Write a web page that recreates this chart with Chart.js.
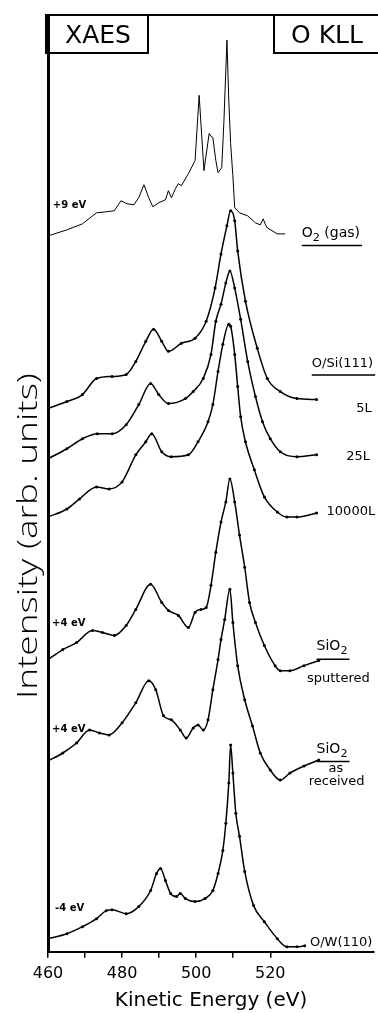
<!DOCTYPE html>
<html>
<head>
<meta charset="utf-8">
<script src="https://cdn.jsdelivr.net/npm/chart.js@4.4.0/dist/chart.umd.min.js"></script>
<style>
  body { margin: 0; background: #fff; overflow: hidden; }
  #wrap { width: 378px; height: 1013px; position: relative; }
</style>
</head>
<body>
<div id="wrap"><canvas id="chart"></canvas></div>
<script>
// kinetic energy (eV) / intensity (arb. units, spectra stacked as in the figure)
const energyGas = [460.0, 465.1, 469.3, 473.1, 475.7, 477.9, 479.7, 481.3, 483.2, 484.5, 485.9, 487.2, 488.3, 489.9, 491.7, 492.5, 493.3, 494.4, 495.2, 496.0, 497.9, 499.7, 500.8, 502.1, 503.5, 504.0, 504.5, 505.3, 505.9, 506.9, 507.5, 508.3, 508.8, 509.3, 509.9, 510.4, 511.7, 513.9, 516.0, 517.3, 518.1, 518.7, 519.2, 521.9, 524.0];
const intensityGas = [71.3, 71.9, 72.5, 73.6, 73.7, 73.8, 74.8, 74.5, 74.4, 75.1, 76.4, 75.1, 74.2, 74.6, 74.9, 75.8, 75.1, 76.0, 76.5, 76.3, 77.5, 78.8, 85.3, 77.8, 81.5, 81.2, 81.1, 78.8, 77.6, 78.1, 82.8, 90.8, 84.8, 80.5, 77.3, 74.1, 73.6, 73.3, 72.6, 72.4, 73.0, 72.4, 72.1, 71.5, 71.5];

const energy5L = [460.0, 465.1, 469.3, 473.1, 477.3, 481.1, 483.7, 486.4, 488.5, 490.7, 492.5, 496.0, 499.7, 502.7, 505.1, 506.7, 508.3, 509.3, 510.4, 511.2, 513.3, 516.5, 519.2, 522.7, 527.2, 532.5];
const intensity5L = [54.1, 54.8, 55.5, 57.1, 57.3, 57.5, 58.8, 60.8, 62.0, 60.8, 59.8, 60.6, 61.1, 62.8, 66.1, 69.5, 72.3, 73.8, 72.8, 69.8, 64.8, 60.1, 57.1, 55.8, 55.1, 55.0];

const energy25L = [460.0, 465.1, 469.3, 473.3, 477.3, 481.1, 484.5, 487.7, 489.9, 492.5, 497.1, 499.2, 501.9, 504.0, 505.3, 506.7, 508.0, 509.1, 510.4, 512.0, 513.9, 516.0, 517.9, 520.0, 522.7, 527.2, 532.5];
const intensity25L = [49.1, 50.1, 51.1, 51.6, 51.6, 52.5, 54.5, 56.6, 55.5, 54.6, 55.1, 55.8, 57.1, 59.5, 62.8, 64.5, 66.6, 67.8, 66.1, 63.0, 58.8, 55.3, 52.8, 51.1, 49.8, 49.3, 49.5];

const energy10000L = [460.0, 465.1, 468.5, 473.1, 476.5, 480.0, 483.7, 486.4, 488.0, 490.7, 493.3, 497.9, 500.5, 503.2, 504.5, 505.9, 507.2, 508.8, 509.3, 510.4, 511.2, 512.0, 513.3, 515.7, 518.4, 521.9, 524.5, 527.2, 532.5];
const intensity10000L = [43.3, 44.1, 45.1, 46.3, 46.1, 46.8, 49.5, 50.8, 51.6, 49.8, 49.3, 49.5, 50.8, 52.8, 54.5, 57.8, 60.5, 62.5, 62.3, 59.5, 56.3, 53.3, 50.8, 48.0, 45.3, 43.8, 43.3, 43.3, 43.7];

const energySputtered = [460.0, 464.0, 467.7, 472.0, 474.7, 477.9, 481.1, 483.7, 487.7, 490.7, 492.5, 495.2, 497.9, 499.7, 501.3, 502.7, 504.0, 505.3, 506.7, 508.0, 509.1, 510.4, 511.7, 513.1, 514.4, 516.0, 518.4, 521.3, 522.7, 525.3, 529.1, 533.1];
const intensitySputtered = [29.1, 30.1, 30.8, 32.0, 31.8, 31.5, 32.5, 34.1, 36.6, 34.8, 34.0, 33.5, 32.3, 33.8, 34.1, 34.3, 36.5, 39.8, 42.8, 44.8, 47.1, 44.8, 41.5, 38.3, 34.8, 32.8, 30.5, 28.5, 28.0, 28.0, 28.5, 29.0];

const energyReceived = [460.0, 464.0, 467.7, 471.2, 473.9, 476.5, 480.0, 483.7, 487.2, 489.1, 491.2, 493.3, 495.7, 497.3, 499.2, 500.5, 501.9, 503.2, 504.5, 505.9, 506.7, 507.7, 509.1, 509.9, 511.2, 513.1, 515.2, 517.3, 520.0, 522.7, 525.3, 529.1, 533.1];
const intensityReceived = [19.0, 19.8, 20.8, 22.1, 21.8, 21.6, 22.8, 24.8, 27.0, 26.1, 23.5, 23.1, 22.1, 21.3, 22.3, 22.6, 22.1, 23.1, 26.1, 29.1, 31.1, 33.1, 36.1, 32.8, 28.5, 25.1, 22.5, 19.8, 18.1, 17.1, 17.8, 18.5, 19.1];

const energyW = [460.0, 465.1, 469.3, 473.1, 475.7, 477.3, 481.1, 484.5, 487.7, 489.3, 490.4, 491.7, 493.1, 494.7, 495.7, 497.1, 499.7, 502.4, 504.5, 505.9, 507.2, 508.0, 508.8, 509.3, 509.9, 510.7, 511.7, 513.1, 515.5, 518.4, 521.9, 524.5, 527.2, 529.3];
const intensityW = [1.3, 1.8, 2.5, 3.3, 4.1, 4.2, 3.8, 4.5, 6.1, 7.8, 8.3, 7.1, 5.8, 5.5, 5.8, 5.3, 5.0, 5.3, 6.1, 7.8, 10.1, 12.8, 16.8, 20.6, 17.8, 13.8, 11.5, 8.0, 4.6, 3.0, 1.3, 0.5, 0.5, 0.6];

const tickValues = [460, 480, 500, 520];

// text annotations, anchored in data coordinates
const notes = [
  { text: '+9 eV', e: 461.3, i: 74.3, size: 10, bold: true },
  { text: 'O~2~ (gas)', e: 528.5, i: 71.6, size: 14, underline: true },
  { text: 'O/Si(111)', e: 531.2, i: 58.6, size: 13, underline: true },
  { text: '5L', e: 543.2, i: 54.1, size: 13 },
  { text: '25L', e: 540.5, i: 49.3, size: 13 },
  { text: '10000L', e: 535.2, i: 43.8, size: 13 },
  { text: '+4 eV', e: 461.1, i: 32.7, size: 10, bold: true },
  { text: 'SiO~2~', e: 532.5, i: 30.4, size: 14, underline: true },
  { text: 'sputtered', e: 529.9, i: 27.2, size: 13 },
  { text: '+4 eV', e: 461.1, i: 22.1, size: 10, bold: true },
  { text: 'SiO~2~', e: 532.5, i: 20.2, size: 14, underline: true },
  { text: 'as', e: 537.7, i: 18.2, size: 13, center: true },
  { text: 'received', e: 530.4, i: 16.9, size: 13 },
  { text: '-4 eV', e: 461.9, i: 4.3, size: 10, bold: true },
  { text: 'O/W(110)', e: 530.7, i: 0.9, size: 13 }
];

const FONT = '"DejaVu Sans", sans-serif';

function pts(xs, ys) {
  return xs.map((x, k) => ({ x: x, y: ys[k] }));
}

function spectrum(xs, ys, dotted) {
  return {
    data: pts(xs, ys),
    showLine: true,
    borderColor: '#000',
    backgroundColor: '#000',
    borderWidth: dotted ? 1.5 : 1,
    pointRadius: dotted ? 1.5 : 0,
    pointBorderWidth: 0,
    cubicInterpolationMode: dotted ? 'monotone' : 'default',
    tension: 0
  };
}

// draws text with ~sub~ parts, returns width
function drawRich(ctx, str, x, y, size, bold, measureOnly) {
  const parts = str.split('~');
  let cx = x;
  parts.forEach((p, k) => {
    const sub = k % 2 === 1;
    const s = sub ? size * 0.8 : size;
    ctx.font = (bold ? 'bold ' : '') + s + 'px ' + FONT;
    if (!measureOnly) ctx.fillText(p, cx, y + (sub ? size * 0.35 : 0));
    cx += ctx.measureText(p).width;
  });
  return cx - x;
}

const annotate = {
  id: 'annotate',
  afterDraw(chart) {
    const { ctx, chartArea: ca, scales } = chart;
    ctx.save();
    ctx.strokeStyle = '#000';
    ctx.fillStyle = '#000';

    // top frame + header boxes
    ctx.lineWidth = 2;
    ctx.beginPath();
    ctx.moveTo(ca.left - 2, ca.top);
    ctx.lineTo(ca.right, ca.top);
    ctx.stroke();
    ctx.strokeRect(ca.left - 2, ca.top, 102, 38);
    ctx.strokeRect(274, ca.top, 106, 38);
    ctx.textBaseline = 'middle';
    ctx.textAlign = 'center';
    ctx.font = '25px ' + FONT;
    ctx.fillText('XAES', 98, 36);
    ctx.fillText('O KLL', 327, 36);

    // curve labels
    ctx.textAlign = 'left';
    notes.forEach(n => {
      let px = scales.x.getPixelForValue(n.e);
      const py = scales.y.getPixelForValue(n.i);
      const w = drawRich(ctx, n.text, 0, 0, n.size, n.bold, true);
      if (n.center) px -= w / 2;
      drawRich(ctx, n.text, px, py, n.size, n.bold, false);
      if (n.underline) {
        ctx.lineWidth = 1.5;
        ctx.beginPath();
        ctx.moveTo(px, py + n.size * 0.9);
        ctx.lineTo(px + w + 2, py + n.size * 0.9);
        ctx.stroke();
      }
    });

    // y title, stretched to the length it has in the figure
    ctx.translate(37, scales.y.getPixelForValue(41.4));
    ctx.rotate(-Math.PI / 2);
    ctx.textAlign = 'center';
    ctx.textBaseline = 'alphabetic';
    ctx.font = '300 27px "Open Sans", ' + FONT;
    const tw = ctx.measureText('Intensity (arb. units)').width;
    ctx.scale(326 / tw, 1);
    ctx.fillText('Intensity (arb. units)', 0, 0);
    ctx.restore();
  }
};

new Chart(document.getElementById('chart'), {
  type: 'scatter',
  data: {
    datasets: [
      spectrum(energyGas, intensityGas, false),
      spectrum(energy5L, intensity5L, true),
      spectrum(energy25L, intensity25L, true),
      spectrum(energy10000L, intensity10000L, true),
      spectrum(energySputtered, intensitySputtered, true),
      spectrum(energyReceived, intensityReceived, true),
      spectrum(energyW, intensityW, true)
    ]
  },
  options: {
    responsive: true,
    maintainAspectRatio: false,
    animation: false,
    layout: { padding: { left: 48, top: 15, right: 0, bottom: 0 } },
    plugins: { legend: { display: false }, tooltip: { enabled: false } },
    scales: {
      x: {
        type: 'linear',
        min: 460,
        max: 548,
        afterFit: s => { s.paddingRight = 0; },
        border: { display: true, color: '#000', width: 2 },
        grid: {
          display: true,
          drawOnChartArea: false,
          drawTicks: true,
          tickLength: 6,
          lineWidth: 1.5,
          color: c => (c.tick && c.tick.value > 520) ? 'rgba(0,0,0,0)' : '#000'
        },
        ticks: {
          stepSize: 10,
          autoSkip: false,
          maxRotation: 0,
          padding: 6,
          color: '#000',
          font: { family: FONT, size: 16 },
          callback: v => tickValues.includes(v) ? String(v) : ''
        },
        title: {
          display: true,
          text: 'Kinetic Energy (eV)',
          color: '#000',
          font: { family: FONT, size: 20 },
          padding: { top: 0, bottom: 0 }
        }
      },
      y: {
        type: 'linear',
        min: 0,
        max: 93.3,
        border: { display: true, color: '#000', width: 3 },
        grid: { display: false, drawTicks: false },
        ticks: { display: false }
      }
    }
  },
  plugins: [annotate]
});
</script>
</body>
</html>
